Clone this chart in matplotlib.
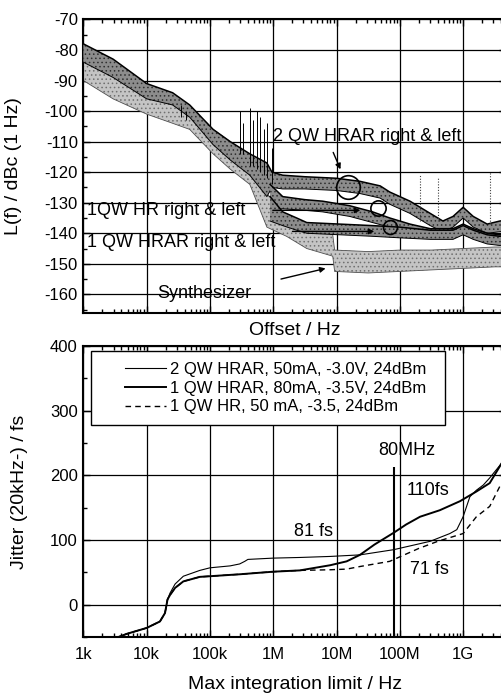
import numpy as np
import matplotlib
matplotlib.use("Agg")
import matplotlib.pyplot as plt
from matplotlib.ticker import FixedLocator, MultipleLocator, LogLocator, NullFormatter
from matplotlib.patches import Rectangle

plt.rcParams['font.family'] = ['Liberation Sans', 'DejaVu Sans']
plt.rcParams['axes.unicode_minus'] = False
plt.rcParams['hatch.linewidth'] = 0.6

# ---- top panel: phase noise bands, log10(offset / Hz) -> lower / upper dBc
synth_lf = [3.0, 3.47, 4.0, 4.41, 4.68, 5.05, 5.32, 5.63, 5.9, 6.21, 6.53, 6.94, 6.97, 7.5, 8.0, 8.5, 9.0, 9.5, 9.75]
synth_lo = [-90, -96, -101, -104, -106, -114, -119, -124, -138, -141, -145, -147.5, -152.5, -153, -152.5, -152, -151.5, -151, -151]
synth_hi = [-80, -85, -93, -97, -99, -106, -110, -115, -127, -134.5, -138, -140.5, -145.5, -146, -145.5, -145.5, -145, -144.5, -144.5]

qw2_lf = [3.0, 3.47, 4.0, 4.41, 4.68, 5.05, 5.32, 5.63, 5.9, 5.98, 6.15, 6.5, 7.0, 7.37, 7.69, 7.84,
          8.16, 8.32, 8.48, 8.68, 8.84, 9.0, 9.16, 9.38, 9.58, 9.75]
qw2_lo = [-84, -89, -96, -98, -102, -111, -116, -121, -128, -125, -125.5, -125.5, -126, -127, -128.5, -130.5,
          -133.5, -135.5, -137.5, -139.5, -138, -135, -138, -140, -139.5, -139]
qw2_hi = [-78, -83, -91, -94, -98, -106, -110, -114, -117, -120, -121, -121.5, -122, -123, -124.5, -126.5,
          -129.5, -131.5, -133.5, -136, -134.5, -131.5, -134.5, -137, -136, -135.5]

hr_lf = [5.95, 6.15, 6.5, 6.78, 7.21, 7.57, 7.84, 8.16, 8.48, 8.84, 9.0, 9.16, 9.38, 9.58, 9.75]
hr_lo = [-132, -132, -132.5, -133, -134.5, -136.5, -138, -140, -141.5, -141.5, -140, -141.5, -143, -143.5, -143]
hr_hi = [-124, -128, -129, -129.5, -131, -133, -135, -137, -138.5, -138.5, -137, -138.5, -140, -140.5, -140]

hrar_lf = [5.95, 6.15, 6.37, 6.53, 7.05, 7.57, 8.0, 8.48, 8.84, 9.0, 9.16, 9.38, 9.58, 9.75]
hrar_lo = [-136, -137.5, -139, -140, -140.5, -141, -141.5, -142, -142, -140.5, -142, -143.5, -144, -143.5]
hrar_hi = [-128, -133, -135, -136.5, -137, -137.5, -138, -139, -139, -137.5, -139, -140.5, -141, -140.5]

# spurs
spur_lf = [4.55, 4.62, 5.47, 5.52, 5.63, 5.68, 5.74, 5.79, 5.85, 5.9, 5.98]
spur_top = [-98, -100, -100, -104, -99, -103, -100, -102, -106, -104, -112]
spur_bot = [-102, -103, -114, -114, -118, -118, -119, -120, -121, -122, -124]
dspur_lf = [8.32, 8.6, 9.42]
dspur_top = [-121, -122, -120]
dspur_bot = [-136, -136, -137]

# circles marking values
circ_lf = [7.18, 7.655, 7.84]
circ_db = [-124.8, -131.6, -137.8]
circ_ms = [17, 11, 10]

# ---- bottom panel: integrated jitter
jit_lf_2qw = [3.5, 3.69, 4.0, 4.21, 4.29, 4.33, 4.37, 4.45, 4.58, 4.84, 5.0, 5.32, 5.47, 5.55, 5.6, 6.0, 6.42,
              6.9, 7.37, 7.9, 8.48, 8.79, 8.9, 9.0, 9.107, 9.21, 9.318, 9.42, 9.61, 9.75]
jit_2qw = [-52, -45, -36, -26, -13, 8, 18, 32, 44, 53, 57, 60, 63, 67, 70, 72, 73,
           74.6, 77, 85, 98, 110, 116, 136, 167, 177, 185, 196, 219, 245]

jit_lf_hrar = [3.5, 3.69, 4.0, 4.21, 4.29, 4.33, 4.37, 4.45, 4.58, 4.84, 5.0, 5.47, 6.0, 6.42, 6.9, 7.16,
               7.37, 7.6, 7.9, 8.1, 8.32, 8.63, 8.95, 9.21, 9.42, 9.58, 9.75]
jit_hrar = [-52, -45, -36, -26, -13, 8, 15, 26, 36, 43, 44, 47, 51, 53, 61, 67,
            77, 93, 111, 124, 136, 146, 160, 175, 188, 214, 242]

jit_lf_hr = [3.5, 3.69, 4.0, 4.21, 4.29, 4.33, 4.37, 4.45, 4.58, 4.84, 5.0, 5.47, 6.0, 6.42, 6.9, 7.16,
             7.37, 7.84, 8.3, 8.6, 9.0, 9.21, 9.42, 9.58, 9.75]
jit_hr = [-52, -45, -36, -26, -13, 8, 15, 26, 36, 43, 44, 47, 51, 53, 54, 55,
          59, 67, 87, 98, 110, 136, 152, 183, 210]

leg_labels = ['2 QW HRAR, 50mA, -3.0V, 24dBm', '1 QW HRAR, 80mA, -3.5V, 24dBm', '1 QW HR, 50 mA, -3.5, 24dBm']

xtick_exp = [3, 4, 5, 6, 7, 8, 9, 10]
xtick_labels = ['1k', '10k', '100k', '1M', '10M', '100M', '1G', '10G']

f = lambda a: 10 ** np.asarray(a, dtype=float)
xlim = (1e3, 10 ** 9.676)

fig = plt.figure(figsize=(5.02, 6.93), dpi=100)
ax1 = fig.add_axes([0.166, 0.5488, 0.8418, 0.4232])
ax2 = fig.add_axes([0.166, 0.0808, 0.8418, 0.4199])


def style(ax):
    ax.set_xscale('log')
    ax.set_xlim(*xlim)
    ax.xaxis.set_major_locator(FixedLocator(f(xtick_exp)))
    ax.xaxis.set_minor_locator(LogLocator(base=10, subs=np.arange(2, 10)))
    ax.xaxis.set_minor_formatter(NullFormatter())
    ax.tick_params(which='both', direction='in', top=True, right=True, width=1, color='black')
    ax.tick_params(which='major', length=5, labelsize=12)
    ax.tick_params(which='minor', length=3)
    ax.tick_params(axis='x', pad=7)
    ax.tick_params(axis='y', pad=4)
    for s in ax.spines.values():
        s.set_linewidth(1.5)
    ax.grid(True, which='major', color='black', lw=0.9)
    ax.set_axisbelow(True)


# ---------------- top panel
style(ax1)
ax1.set_ylim(-166, -70)
ax1.yaxis.set_major_locator(MultipleLocator(10))
ax1.yaxis.set_minor_locator(MultipleLocator(5))
ax1.set_xticklabels([])

ax1.fill_between(f(synth_lf), synth_lo, synth_hi, facecolor='#c4c4c4', hatch='....',
                 edgecolor='#707070', lw=0, zorder=2)
ax1.plot(f(synth_lf), synth_hi, color='#505050', lw=0.6, zorder=2)
ax1.plot(f(synth_lf), synth_lo, color='#505050', lw=0.6, zorder=2)

for lf, lo, hi in [(qw2_lf, qw2_lo, qw2_hi), (hr_lf, hr_lo, hr_hi), (hrar_lf, hrar_lo, hrar_hi)]:
    ax1.fill_between(f(lf), lo, hi, facecolor='#8c8c8c', hatch='....', edgecolor='#303030', lw=0, zorder=3)
    ax1.plot(f(lf), hi, color='black', lw=1.1, zorder=3)
    ax1.plot(f(lf), lo, color='black', lw=0.7, zorder=3)

ax1.vlines(f(spur_lf), spur_bot, spur_top, color='black', lw=0.7, zorder=3)
ax1.vlines(f(dspur_lf), dspur_bot, dspur_top, color='#404040', lw=0.8, linestyles=(0, (1, 1.5)), zorder=3)

for lf, db, ms in zip(circ_lf, circ_db, circ_ms):
    ax1.plot(10 ** lf, db, 'o', ms=ms, mfc='none', mec='black', mew=1.2, zorder=5)

ax1.text(10 ** 5.995, -108.4, '2 QW HRAR right & left', fontsize=13, va='center', ha='left', zorder=6)
ax1.text(10 ** 3.057, -132.6, '1QW HR right & left', fontsize=13, va='center', ha='left', zorder=6)
ax1.text(10 ** 3.057, -142.9, '1 QW HRAR right & left', fontsize=13, va='center', ha='left', zorder=6)
ax1.text(10 ** 4.163, -159.7, 'Synthesizer', fontsize=13, va='center', ha='left', zorder=6)

arw = dict(arrowstyle='-|>', color='black', lw=1.0, mutation_scale=8)
ax1.annotate('', xy=(10 ** 7.08, -119.9), xytext=(10 ** 6.93, -112.7), arrowprops=arw, zorder=6)
ax1.annotate('', xy=(10 ** 7.42, -132.5), xytext=(10 ** 5.95, -132.5), arrowprops=arw, zorder=6)
ax1.annotate('', xy=(10 ** 7.64, -139.4), xytext=(10 ** 6.26, -139.4), arrowprops=arw, zorder=6)
ax1.annotate('', xy=(10 ** 6.87, -151.3), xytext=(10 ** 6.08, -155.2), arrowprops=arw, zorder=6)

ax1.set_ylabel('L(f) / dBc (1 Hz)', fontsize=14)
ax1.yaxis.set_label_coords(-0.145, 0.5)
ax1.set_xlabel('Offset / Hz', fontsize=14, labelpad=0)

# ---------------- bottom panel
style(ax2)
ax2.set_ylim(-50, 400)
ax2.yaxis.set_major_locator(FixedLocator([0, 100, 200, 300, 400]))
ax2.yaxis.set_minor_locator(MultipleLocator(50))
ax2.set_xticklabels(xtick_labels)

l1, = ax2.plot(f(jit_lf_2qw), jit_2qw, color='black', lw=0.8, zorder=3)
l2, = ax2.plot(f(jit_lf_hrar), jit_hrar, color='black', lw=1.4, zorder=3)
l3, = ax2.plot(f(jit_lf_hr), jit_hr, color='black', lw=1.0, ls=(0, (4, 3)), zorder=3)

ax2.vlines(80e6, -50, 213, color='black', lw=1.5, zorder=3)
ax2.text(10 ** 8.11, 238, '80MHz', fontsize=13, ha='center', va='center')
ax2.text(10 ** 8.444, 177, '110fs', fontsize=13, ha='center', va='center')
ax2.text(10 ** 8.46, 54, '71 fs', fontsize=13, ha='center', va='center')
ax2.text(10 ** 6.63, 113, '81 fs', fontsize=13, ha='center', va='center')

ax2.add_patch(Rectangle((0.018, 0.7285), 0.838, 0.2545, transform=ax2.transAxes,
                        facecolor='white', edgecolor='black', lw=1.0, zorder=4))
leg = ax2.legend([l1, l2, l3], leg_labels, loc='upper left', bbox_to_anchor=(0.07, 0.985),
                 frameon=False, fontsize=12, handlelength=2.5, handletextpad=0.2,
                 labelspacing=0.22, borderpad=0.2)
leg.set_zorder(5)

ax2.set_ylabel('Jitter (20kHz-) / fs', fontsize=14)
ax2.yaxis.set_label_coords(-0.132, 0.5)
ax2.set_xlabel('Max integration limit / Hz', fontsize=14, labelpad=10)

fig.savefig('out.png', dpi=100)
